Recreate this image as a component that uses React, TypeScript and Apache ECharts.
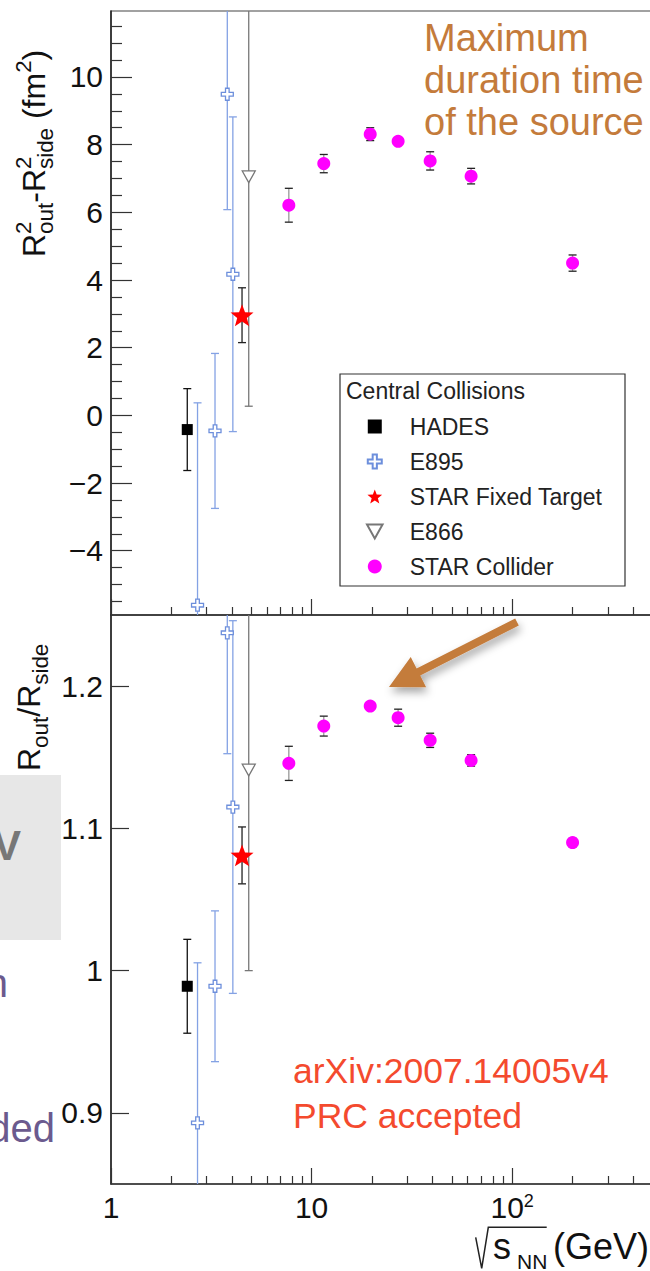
import React, { useEffect, useRef } from 'react';
import * as echarts from 'echarts';

// ---------------- data ----------------
const hadesEnergy = [2.4];
const hadesDiff = [-0.42];
const hadesDiffErr = [1.21];
const hadesRatio = [0.989];
const hadesRatioErr = [0.033];

const e895Energy = [2.7, 3.3, 3.8, 4.05];
const e895Diff = [-5.61, -0.46, 9.49, 4.17];
const e895DiffErr = [5.98, 2.29, 3.41, 4.65];
const e895Ratio = [0.893, 0.989, 1.2375, 1.115];
const e895RatioErr = [0.1125, 0.053, 0.085, 0.131];

const fxtEnergy = [4.5];
const fxtDiff = [2.96];
const fxtDiffErr = [0.81];
const fxtRatio = [1.081];
const fxtRatioErr = [0.02];

const e866Energy = [4.86];
const e866Diff = [7.05];
const e866DiffErr = [6.78];
const e866Ratio = [1.141];
const e866RatioErr = [0.141];

const colliderEnergy = [7.7, 11.5, 19.6, 27, 39, 62.4, 200];
const colliderDiff = [6.21, 7.44, 8.31, 8.1, 7.52, 7.07, 4.5];
const colliderDiffErr = [0.5, 0.27, 0.19, 0.05, 0.27, 0.23, 0.24];
const colliderRatio = [1.1457, 1.1719, 1.186, 1.1778, 1.1619, 1.1478, 1.09];
const colliderRatioErr = [0.012, 0.007, 0.002, 0.006, 0.005, 0.004, 0.003];

const xMajorTicks = [1, 10, 100];
const xMinorTicks = [2, 3, 4, 5, 6, 7, 8, 9, 20, 30, 40, 50, 60, 70, 80, 90, 200, 300, 400];
const diffMajorTicks = [-4, -2, 0, 2, 4, 6, 8, 10];
const diffMinorTicks = [-5.5, -5, -4.5, -3.5, -3, -2.5, -1.5, -1, -0.5, 0.5, 1, 1.5, 2.5, 3, 3.5, 4.5, 5, 5.5, 6.5, 7, 7.5, 8.5, 9, 9.5, 10.5, 11, 11.5];
const ratioMajorTicks = [0.9, 1, 1.1, 1.2];

const legendNames = ['HADES', 'E895', 'STAR Fixed Target', 'E866', 'STAR Collider'];
const legendHeader = 'Central Collisions';
const annotationLines = ['Maximum', 'duration time', 'of the source'];
const referenceLines = ['arXiv:2007.14005v4', 'PRC accepted'];

// ---------------- styling ----------------
const FONT = '"Liberation Sans", Arial, Helvetica, sans-serif';
const INK = '#111';
const BROWN = '#c47b3b';
const RED = '#f44a2e';

const X_MIN = 1;
const X_MAX = 500;
const DIFF_MIN = -5.9;
const DIFF_MAX = 11.95;
const RATIO_MIN = 0.85;
const RATIO_MAX = 1.25;

const starPath = (() => {
  const pts: string[] = [];
  for (let k = 0; k < 10; k++) {
    const a = -Math.PI / 2 + (k * Math.PI) / 5;
    const r = k % 2 === 0 ? 50 : 21;
    pts.push(`${(50 + r * Math.cos(a)).toFixed(2)},${(50 + r * Math.sin(a)).toFixed(2)}`);
  }
  return 'path://M' + pts.join(' L') + ' Z';
})();
const crossPath = 'path://M35,0 L65,0 L65,35 L100,35 L100,65 L65,65 L65,100 L35,100 L35,65 L0,65 L0,35 L35,35 Z';
const squarePath = 'path://M0,0 L100,0 L100,100 L0,100 Z';
const triangleDownPath = 'path://M0,0 L100,0 L50,90 Z';

const datasets = [
  { name: 'HADES', energy: hadesEnergy, diff: hadesDiff, diffErr: hadesDiffErr, ratio: hadesRatio, ratioErr: hadesRatioErr,
    symbol: squarePath, size: 11, itemStyle: { color: '#000' }, errColor: '#111', capColor: '#111' },
  { name: 'E895', energy: e895Energy, diff: e895Diff, diffErr: e895DiffErr, ratio: e895Ratio, ratioErr: e895RatioErr,
    symbol: crossPath, size: 12, itemStyle: { color: '#ffffff', borderColor: '#6d8fdc', borderWidth: 1.3 }, errColor: '#84a2e4', capColor: '#84a2e4' },
  { name: 'STAR Fixed Target', energy: fxtEnergy, diff: fxtDiff, diffErr: fxtDiffErr, ratio: fxtRatio, ratioErr: fxtRatioErr,
    symbol: starPath, size: 23, itemStyle: { color: '#ff0000' }, errColor: '#222', capColor: '#222' },
  { name: 'E866', energy: e866Energy, diff: e866Diff, diffErr: e866DiffErr, ratio: e866Ratio, ratioErr: e866RatioErr,
    symbol: triangleDownPath, size: 13, itemStyle: { color: '#ffffff', borderColor: '#777', borderWidth: 1.3 }, errColor: '#777', capColor: '#777' },
  { name: 'STAR Collider', energy: colliderEnergy, diff: colliderDiff, diffErr: colliderDiffErr, ratio: colliderRatio, ratioErr: colliderRatioErr,
    symbol: 'circle', size: 13, itemStyle: { color: '#ff00ff' }, errColor: '#999', capColor: '#222' },
];

let measureCtx: CanvasRenderingContext2D | null = null;
function measure(text: string, size: number): number {
  if (!measureCtx) measureCtx = document.createElement('canvas').getContext('2d');
  if (!measureCtx) return text.length * size * 0.55;
  measureCtx.font = `${size}px "Liberation Sans", Arial, sans-serif`;
  return measureCtx.measureText(text).width;
}

function txt(text: string, x: number, baseline: number, size: number, fill: string, align = 'left', weight = 'normal', z = 10): any {
  return {
    type: 'text', x, y: baseline - 0.34 * size, z, silent: true,
    style: {
      text, fontSize: size, fontFamily: FONT, fontWeight: weight, fill,
      align, verticalAlign: 'middle', textAlign: align, textVerticalAlign: 'middle',
    },
  };
}

type Seg = { t?: string; sup?: string; sub?: string };
function rotatedTitle(x: number, y: number, segs: Seg[], F: number): any {
  const children: any[] = [];
  let cursor = 0;
  const sF = 0.7 * F;
  for (const s of segs) {
    if (s.t) {
      children.push(txt(s.t, cursor, 0, F, INK));
      cursor += measure(s.t, F);
    } else {
      let w = 0;
      if (s.sup) { children.push(txt(s.sup, cursor, -0.42 * F, sF, INK)); w = Math.max(w, measure(s.sup, sF)); }
      if (s.sub) { children.push(txt(s.sub, cursor, 0.24 * F, sF, INK)); w = Math.max(w, measure(s.sub, sF)); }
      cursor += w;
    }
  }
  return { type: 'group', x, y, rotation: Math.PI / 2, children, silent: true };
}

function errSeries(ds: any, vals: number[], errs: number[], xIdx: number, yIdx: number): any {
  return {
    type: 'custom', name: ds.name + ' errors', xAxisIndex: xIdx, yAxisIndex: yIdx, clip: true, z: 2, silent: true,
    data: ds.energy.map((e: number, i: number) => [e, vals[i] - errs[i], vals[i] + errs[i]]),
    encode: { x: 0, y: [1, 2] },
    renderItem: (_p: any, api: any) => {
      const x = api.value(0);
      const top = api.coord([x, api.value(2)]);
      const bot = api.coord([x, api.value(1)]);
      const w = 4;
      return {
        type: 'group',
        children: [
          { type: 'line', shape: { x1: top[0], y1: top[1], x2: bot[0], y2: bot[1] }, style: { stroke: ds.errColor, lineWidth: 1.3 } },
          { type: 'line', shape: { x1: top[0] - w, y1: top[1], x2: top[0] + w, y2: top[1] }, style: { stroke: ds.capColor, lineWidth: 1.3 } },
          { type: 'line', shape: { x1: bot[0] - w, y1: bot[1], x2: bot[0] + w, y2: bot[1] }, style: { stroke: ds.capColor, lineWidth: 1.3 } },
        ],
      };
    },
  };
}

function pointSeries(ds: any, vals: number[], xIdx: number, yIdx: number): any {
  return {
    type: 'scatter', name: ds.name, xAxisIndex: xIdx, yAxisIndex: yIdx, z: 3,
    symbol: ds.symbol, symbolSize: ds.size, symbolKeepAspect: true,
    itemStyle: { ...ds.itemStyle, opacity: 1 },
    emphasis: { disabled: true },
    data: ds.energy.map((e: number, i: number) => [e, vals[i]]),
  };
}

const tickStyle = { color: '#333', width: 1.2 };
const fmtNum = (v: number) => String(Math.round(v * 1000) / 1000).replace('-', '\u2212');

function xAxes(gridIndex: number, labels: boolean): any[] {
  const base = {
    gridIndex, type: 'log', logBase: 10, min: X_MIN, max: X_MAX, position: 'bottom',
    splitLine: { show: false }, minorTick: { show: false }, minorSplitLine: { show: false },
  };
  return [
    {
      ...base,
      axisLine: { show: true, onZero: false, lineStyle: { color: '#333', width: 1.5 } },
      axisTick: { show: true, inside: true, length: 16, customValues: xMajorTicks, lineStyle: tickStyle },
      axisLabel: labels
        ? {
            show: true, customValues: xMajorTicks, margin: 8,
            formatter: (v: number) => {
              const e = Math.round(Math.log10(v));
              return e === 0 ? '{m|1}' : e === 1 ? '{m|10}' : '{m|10}{s|' + e + '}';
            },
            rich: {
              m: { fontSize: 30, fontFamily: FONT, color: INK },
              s: { fontSize: 18, fontFamily: FONT, color: INK, verticalAlign: 'top' },
            },
          }
        : { show: false },
    },
    {
      ...base,
      axisLine: { show: false, onZero: false },
      axisTick: { show: true, inside: true, length: 8, customValues: xMinorTicks, lineStyle: tickStyle },
      axisLabel: { show: false },
    },
  ];
}

function buildOption(): any {
  const series: any[] = [];
  datasets.forEach((ds) => {
    series.push(errSeries(ds, ds.diff, ds.diffErr, 0, 0));
    series.push(errSeries(ds, ds.ratio, ds.ratioErr, 2, 2));
  });
  datasets.forEach((ds) => {
    series.push(pointSeries(ds, ds.diff, 0, 0));
    series.push(pointSeries(ds, ds.ratio, 2, 2));
  });

  // arrow geometry (annotation)
  const tail = [517, 622];
  const tip = [389, 687];
  const dx = tip[0] - tail[0], dy = tip[1] - tail[1];
  const len = Math.hypot(dx, dy);
  const ux = dx / len, uy = dy / len;
  const nx = -uy, ny = ux;
  const headLen = 33, headHalf = 17, shaftHalf = 4;
  const bx = tip[0] - headLen * ux, by = tip[1] - headLen * uy;
  const arrowPts = [
    [tail[0] + shaftHalf * nx, tail[1] + shaftHalf * ny],
    [bx + shaftHalf * nx, by + shaftHalf * ny],
    [bx + headHalf * nx, by + headHalf * ny],
    [tip[0], tip[1]],
    [bx - headHalf * nx, by - headHalf * ny],
    [bx - shaftHalf * nx, by - shaftHalf * ny],
    [tail[0] - shaftHalf * nx, tail[1] - shaftHalf * ny],
  ];

  const graphics: any[] = [
    // slide background remnants on the left
    { type: 'rect', shape: { x: 0, y: 775, width: 61, height: 165 }, style: { fill: '#e7e7e7' }, z: 0, silent: true },
    txt('V', 21, 860, 42, '#777', 'right', 'bold', 1),
    txt('n', 8, 997, 40, '#6b5a8e', 'right', 'normal', 1),
    txt('ded', 55, 1142, 40, '#6b5a8e', 'right', 'normal', 1),
    // legend frame + header
    { type: 'rect', shape: { x: 340, y: 374, width: 285, height: 212 }, style: { fill: '#fff', stroke: '#333', lineWidth: 1.2 }, z: 1, silent: true },
    txt(legendHeader, 346, 399, 23, '#222'),
    // annotations
    ...annotationLines.map((s, i) => txt(s, 424, 51 + i * 42, 38, BROWN)),
    ...referenceLines.map((s, i) => txt(s, 293, 1083 + i * 45, 35.5, RED)),
    {
      type: 'polygon', shape: { points: arrowPts }, z: 10, silent: true,
      style: { fill: BROWN, shadowBlur: 8, shadowColor: 'rgba(0,0,0,0.35)', shadowOffsetX: 2, shadowOffsetY: 5 },
    },
    // axis titles
    rotatedTitle(45, 257, [{ t: 'R' }, { sup: '2', sub: 'out' }, { t: '-R' }, { sup: '2', sub: 'side' }, { t: ' (fm' }, { sup: '2' }, { t: ')' }], 32),
    rotatedTitle(40, 771, [{ t: 'R' }, { sub: 'out' }, { t: '/R' }, { sub: 'side' }], 32),
    {
      type: 'polyline', silent: true, z: 10,
      shape: { points: [[475.7, 1237.3], [481.7, 1268.3], [488.3, 1227.3], [546.7, 1227.3]] },
      style: { stroke: '#222', lineWidth: 1.5, fill: 'none' },
    },
    txt('s', 493, 1258.3, 36, INK),
    txt('NN', 517, 1268.3, 21, INK),
    txt('(GeV)', 553, 1259, 36, INK),
  ];

  return {
    animation: false,
    backgroundColor: '#ffffff',
    textStyle: { fontFamily: FONT },
    grid: [
      { left: 111, top: 11, width: 541.4, height: 604, show: true, borderColor: '#444', borderWidth: 1.2, backgroundColor: 'transparent', containLabel: false, outerBoundsMode: 'none' },
      { left: 111, top: 615, width: 541.4, height: 569, show: true, borderColor: '#444', borderWidth: 1.2, backgroundColor: 'transparent', containLabel: false, outerBoundsMode: 'none' },
    ],
    xAxis: [...xAxes(0, false), ...xAxes(1, true)],
    yAxis: [
      {
        gridIndex: 0, type: 'value', min: DIFF_MIN, max: DIFF_MAX, position: 'left',
        axisLine: { show: true, onZero: false, lineStyle: { color: '#222', width: 1.5 } },
        axisTick: { show: true, inside: true, length: 21, customValues: diffMajorTicks, lineStyle: tickStyle },
        axisLabel: { show: true, customValues: diffMajorTicks, formatter: fmtNum, fontSize: 30, fontFamily: FONT, color: INK, margin: 8 },
        splitLine: { show: false },
      },
      {
        gridIndex: 0, type: 'value', min: DIFF_MIN, max: DIFF_MAX, position: 'left',
        axisLine: { show: false, onZero: false },
        axisTick: { show: true, inside: true, length: 11, customValues: diffMinorTicks, lineStyle: tickStyle },
        axisLabel: { show: false },
        splitLine: { show: false },
      },
      {
        gridIndex: 1, type: 'value', min: RATIO_MIN, max: RATIO_MAX, position: 'left',
        axisLine: { show: true, onZero: false, lineStyle: { color: '#222', width: 1.5 } },
        axisTick: { show: true, inside: true, length: 18, customValues: ratioMajorTicks, lineStyle: tickStyle },
        axisLabel: { show: true, customValues: ratioMajorTicks, formatter: fmtNum, fontSize: 30, fontFamily: FONT, color: INK, margin: 8 },
        splitLine: { show: false },
      },
    ],
    legend: {
      data: legendNames,
      orient: 'vertical',
      left: 366,
      top: 415,
      padding: 0,
      itemWidth: 60,
      itemHeight: 14,
      itemGap: 12,
      selectedMode: false,
      symbolKeepAspect: true,
      z: 20,
      textStyle: { fontSize: 23, fontFamily: FONT, color: '#222', lineHeight: 23 },
    },
    graphic: { elements: graphics },
    series,
  };
}

export default function App() {
  const ref = useRef<HTMLDivElement>(null);
  useEffect(() => {
    if (!ref.current) return;
    const chart = echarts.init(ref.current, undefined, { renderer: 'svg' });
    chart.setOption(buildOption());
    return () => chart.dispose();
  }, []);
  return (
    <div
      ref={ref}
      style={{ position: 'fixed', left: 0, top: 0, width: 650, height: 1271, background: '#fff' }}
    />
  );
}
